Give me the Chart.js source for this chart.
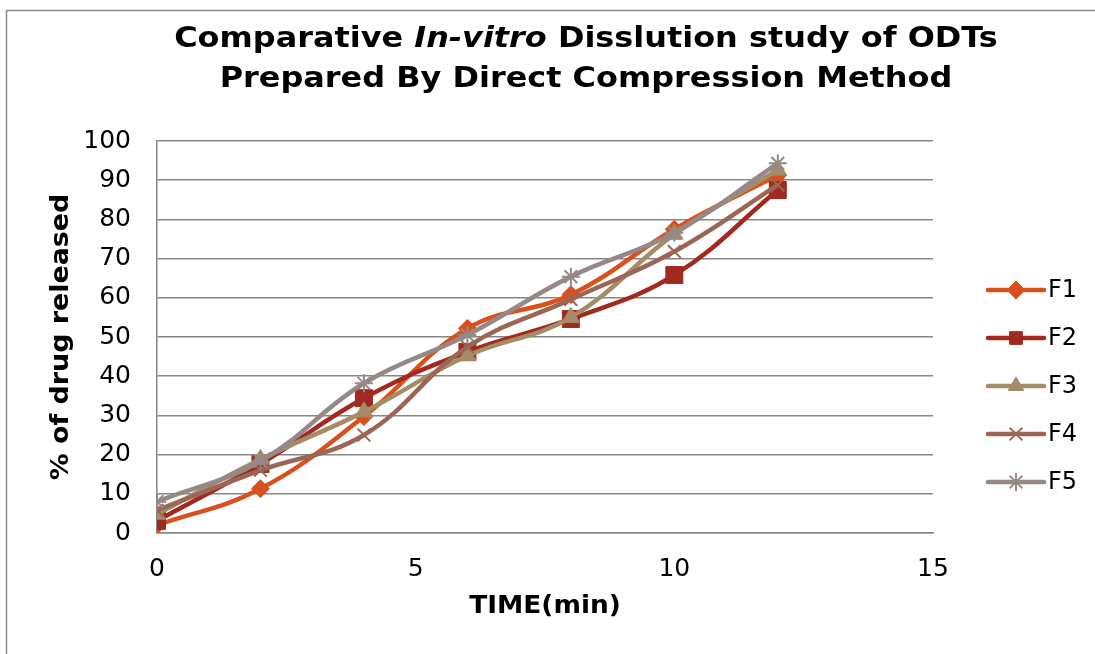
<!DOCTYPE html>
<html>
<head>
<meta charset="utf-8">
<script src="https://cdn.jsdelivr.net/npm/chart.js@4/dist/chart.umd.min.js"></script>
<style>
    html, body { margin: 0; padding: 0; background: #fff; }
    #wrap { width: 1095px; height: 654px; position: relative; }
</style>
</head>
<body>
<div id="wrap"><canvas id="dissolutionChart" width="1095" height="654"></canvas></div>
<script>
// Time points (min) and % drug released
const timePoints = [0, 2, 4, 6, 8, 10, 12];
const seriesNames = ['F1', 'F2', 'F3', 'F4', 'F5'];
const f1Values = [2, 11.3, 29.7, 52.2, 60.8, 77.5, 91.3];
const f2Values = [3.1, 17.6, 34.4, 46.2, 54.6, 65.8, 87.5];
const f3Values = [4.8, 18.8, 30.9, 45.2, 55, 76.2, 92.6];
const f4Values = [5.8, 16, 25, 47.5, 59.6, 71.8, 88.8];
const f5Values = [8, 18.3, 38.2, 50.5, 65.4, 76.6, 94.3];
const xTickValues = [0, 5, 10, 15];
const yTickValues = [0, 10, 20, 30, 40, 50, 60, 70, 80, 90, 100];

const seriesColors = ['#d9501c', '#a2291f', '#a58c68', '#9c6656', '#978888'];
const seriesMarkers = ['rectRot', 'rect', 'triangle', 'crossRot', 'star'];
const markerSizes = [9, 12, 10, 9, 9];

const FONT = "'DejaVu Sans', Verdana, sans-serif";
const GRID = '#878787';
const WIDEN = 1.14; // the original font (Verdana-ish) runs wider than DejaVu

const allValues = [f1Values, f2Values, f3Values, f4Values, f5Values];

const datasets = seriesNames.map((name, i) => ({
    label: name,
    data: timePoints.map((t, j) => ({ x: t, y: allValues[i][j] })),
    borderColor: seriesColors[i],
    backgroundColor: seriesColors[i],
    pointBackgroundColor: seriesColors[i],
    pointBorderColor: seriesColors[i],
    pointStyle: seriesMarkers[i],
    pointRadius: markerSizes[i],
    pointHoverRadius: markerSizes[i],
    pointBorderWidth: (seriesMarkers[i] === 'crossRot' || seriesMarkers[i] === 'star') ? 2 : 1,
    borderWidth: 4.5,
    tension: 0.4,
    fill: false,
    showLine: true,
    order: seriesNames.length - i  // later series drawn on top, like the original
}));

// draw a run of text pieces centred on cx, stretched horizontally
function drawWideText(ctx, parts, cx, y, sx) {
    let total = 0;
    parts.forEach(p => { ctx.font = p.font; p.w = ctx.measureText(p.text).width; total += p.w; });
    ctx.save();
    ctx.translate(cx, y);
    ctx.scale(sx, 1);
    let x = -total / 2;
    ctx.textAlign = 'left';
    parts.forEach(p => { ctx.font = p.font; ctx.fillText(p.text, x, 0); x += p.w; });
    ctx.restore();
}

// Border, titles (with italic part) and a line+marker legend
const decorPlugin = {
    id: 'decor',
    beforeDraw(chart) {
        const ctx = chart.ctx;
        ctx.save();
        ctx.fillStyle = '#ffffff';
        ctx.fillRect(0, 0, chart.width, chart.height);
        ctx.strokeStyle = '#8a8a8a';
        ctx.lineWidth = 1.5;
        ctx.strokeRect(6.5, 10.5, chart.width + 20, chart.height + 20);
        ctx.restore();
    },
    afterDraw(chart) {
        const ctx = chart.ctx;
        const area = chart.chartArea;
        ctx.save();
        ctx.fillStyle = '#000';
        ctx.textBaseline = 'alphabetic';

        // chart title
        const regular = `bold 28px ${FONT}`;
        const italic = `italic bold 28px ${FONT}`;
        drawWideText(ctx, [
            { text: 'Comparative ', font: regular },
            { text: 'In-vitro', font: italic },
            { text: ' Disslution study of ODTs', font: regular }
        ], 586, 47, WIDEN);
        drawWideText(ctx, [{ text: 'Prepared By Direct Compression Method', font: regular }], 586, 87, WIDEN);

        // axis titles
        const axisFont = `bold 24px ${FONT}`;
        ctx.textBaseline = 'middle';
        drawWideText(ctx, [{ text: 'TIME(min)', font: axisFont }], (area.left + area.right) / 2, 607, 1.1);
        ctx.save();
        ctx.translate(62, (area.top + area.bottom) / 2);
        ctx.rotate(-Math.PI / 2);
        drawWideText(ctx, [{ text: '% of drug released', font: axisFont }], 0, 0, 1.12);
        ctx.restore();

        // legend
        const lx0 = 988, lx1 = 1044, top = 290, gap = 48;
        chart.data.datasets.forEach((ds, i) => {
            const y = top + i * gap;
            ctx.strokeStyle = ds.borderColor;
            ctx.lineWidth = 4.5;
            ctx.lineCap = 'round';
            ctx.beginPath();
            ctx.moveTo(lx0, y);
            ctx.lineTo(lx1, y);
            ctx.stroke();
            ctx.lineCap = 'butt';
            ctx.fillStyle = ds.pointBackgroundColor;
            ctx.strokeStyle = ds.pointBorderColor;
            ctx.lineWidth = ds.pointBorderWidth;
            Chart.helpers.drawPoint(ctx, {
                pointStyle: ds.pointStyle,
                radius: Math.min(ds.pointRadius, 9),
                rotation: 0,
                borderWidth: ds.pointBorderWidth
            }, (lx0 + lx1) / 2, y);
            ctx.fillStyle = '#000';
            ctx.font = `24px ${FONT}`;
            ctx.textAlign = 'left';
            ctx.textBaseline = 'middle';
            ctx.fillText(ds.label, lx1 + 4, y + 1);
        });
        ctx.restore();
    }
};

new Chart(document.getElementById('dissolutionChart').getContext('2d'), {
    type: 'scatter',
    data: { datasets: datasets },
    plugins: [decorPlugin],
    options: {
        responsive: false,
        animation: false,
        layout: { padding: { left: 0, top: 141, right: 162, bottom: 21 } },
        plugins: {
            legend: { display: false },
            title: { display: false },
            tooltip: { enabled: false }
        },
        scales: {
            x: {
                type: 'linear',
                min: 0,
                max: 15,
                afterBuildTicks: scale => { scale.ticks = xTickValues.map(v => ({ value: v })); },
                afterFit: scale => { scale.height = 100; },
                grid: { display: false, drawTicks: false },
                border: { display: true, color: GRID, width: 1.5 },
                ticks: { color: '#000', font: { family: FONT, size: 25 }, padding: 21, maxRotation: 0 }
            },
            y: {
                type: 'linear',
                min: 0,
                max: 100,
                afterBuildTicks: scale => { scale.ticks = yTickValues.map(v => ({ value: v })); },
                afterFit: scale => { scale.width = 157; },
                grid: { color: GRID, lineWidth: 1.5, drawTicks: false },
                border: { display: true, color: GRID, width: 1.5 },
                ticks: { color: '#000', font: { family: FONT, size: 25 }, padding: 26 }
            }
        }
    }
});
</script>
</body>
</html>
